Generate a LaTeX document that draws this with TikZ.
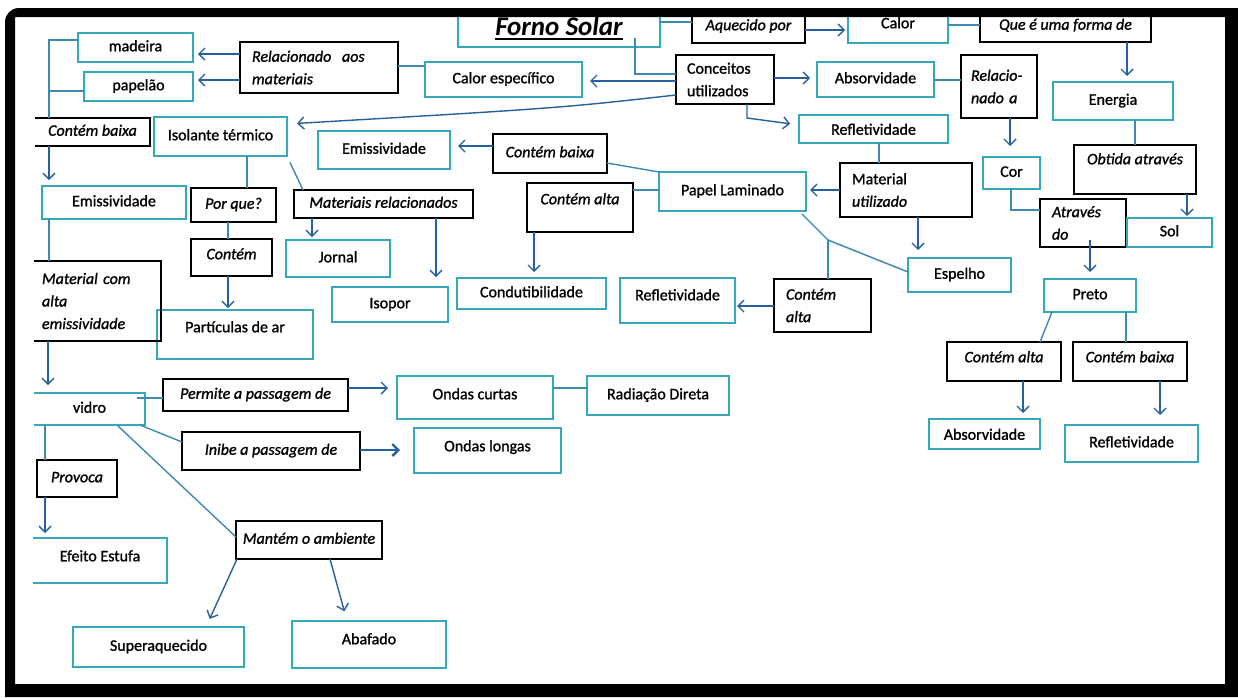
\documentclass[tikz,border=0pt]{standalone}
\usepackage{fontspec}
\setmainfont{Carlito}[UprightFeatures={FakeBold=1.2}, ItalicFeatures={FakeBold=1.2}]
\usetikzlibrary{arrows.meta}

\definecolor{tealbox}{RGB}{52,168,184}
\definecolor{arrowblue}{RGB}{38,96,158}
\definecolor{linkblue}{RGB}{60,138,178}

% thick underline for the title
\newsavebox\ulbox
\newcommand\thickul[1]{\sbox\ulbox{#1}\rlap{\rule[-4.5pt]{\wd\ulbox}{2pt}}\usebox\ulbox}

% box given by its corners: [extra]{style}{name}{x1}{y1}{x2}{y2}
\newcommand\bx[7][]{\node[#2, minimum width={#6-#4}, minimum height={#7-#5}, #1] (#3) at ({(#4+#6)/2},{(#5+#7)/2})}

\tikzset{
  base/.style={rectangle, inner sep=0pt, outer sep=0pt, font=\fontsize{16}{22.5}\selectfont},
  one/.style={text height=11pt, text depth=3.5pt},
  concept/.style={base, draw=tealbox, line width=2.6pt},
  link/.style={base, draw=black, line width=1.8pt, font=\fontsize{16}{22.5}\selectfont\itshape},
  upright/.style={font=\fontsize{16}{22.5}\selectfont\upshape},
  arr/.style={draw=arrowblue, line width=1.4pt, -{Straight Barb[length=6pt,width=12pt]}},
  ln/.style={draw=linkblue, line width=1.4pt},
  tealside/.style={draw=tealbox, line width=2.6pt},
  blackside/.style={draw=black, line width=1.8pt},
}

\begin{document}
\begin{tikzpicture}[x=1pt,y=-1pt]
\useasboundingbox (0,0) rectangle (1238,697);
\fill[white] (0,0) rectangle (1238,697);

% ---- concepts and linking phrases ----
\bx{concept,one,font=\fontsize{27}{30}\selectfont\bfseries\itshape,text height=19pt,text depth=6pt}{forno}{458}{10}{660}{47}{\thickul{Forno Solar}};
\bx{link,one}{aquec}{692}{10}{805}{43}{Aquecido por};
\bx{concept,one}{calor}{848}{10}{948}{43}{\raisebox{2pt}{Calor}};
\bx{link,one}{quee}{980}{10}{1151}{42}{Que é uma forma de};
\bx{concept,one}{madeira}{78}{33}{193}{62}{madeira};
\bx{concept,one}{papelao}{84}{72}{193}{101}{papelão};
\bx{link,align=left,text width=134pt}{relac}{240}{42}{398}{93}{Relacionado\ \ aos\\materiais};
\bx{concept,one}{calesp}{425}{62}{582}{97}{Calor específico};
\bx{link,upright,align=left,text width=76pt}{conc}{676}{55}{774}{104}{Conceitos\\utilizados};
\bx{concept,one}{absorv1}{817}{62}{934}{97}{Absorvidade};
\bx{link,align=left,text width=56pt}{relnado}{961}{55}{1037}{118}{Relacio-\\nado a};
\bx{concept,one}{energia}{1053}{82}{1173}{120}{Energia};
\bx{concept,one}{refl1}{799}{115}{948}{143}{\raisebox{-2pt}{Refletividade}};
\bx{concept,one}{isol}{154}{117}{287}{156}{Isolante térmico};
\bx{concept,one}{emis2}{318}{131}{450}{169}{Emissividade};
\bx{link,one}{cbaixa2}{493}{134}{607}{173}{Contém baixa};
\bx{link,one,draw=none}{cbaixa1}{35}{118}{150}{146}{Contém baixa};
\bx{link,align=left,text width=108pt}{matutil}{840}{163}{972}{217}{{\upshape Material}\\utilizado};
\bx{concept,one}{cor}{983}{157}{1040}{189}{Cor};
\bx{link,one}{obtida}{1074}{145}{1196}{194}{\raisebox{9pt}{Obtida através}};
\bx{concept,one}{papel}{659}{172}{806}{211}{Papel Laminado};
\bx{link,one}{calta2}{527}{183}{633}{232}{\raisebox{7pt}{Contém alta}};
\bx{concept,one}{emis1}{42}{186}{186}{219}{Emissividade};
\bx{link,one}{porque}{191}{188}{276}{222}{Por que?};
\bx{link,one}{matrel}{294}{190}{473}{218}{Materiais relacionados};
\bx{link,align=left,text width=62pt}{atraves}{1040}{199}{1126}{247}{Através\\do};
\bx{concept,one}{sol}{1127}{218}{1212}{247}{Sol};
\bx{link,one}{contem}{191}{239}{272}{276}{\raisebox{2pt}{Contém}};
\bx{concept,one}{jornal}{286}{240}{390}{277}{Jornal};
\bx{concept,one}{espelho}{908}{258}{1011}{292}{Espelho};
\bx{link,align=left,text width=111pt,draw=none}{matcom}{34}{261}{161}{341}{Material com\\alta\\emissividade};
\bx{concept,one}{conduti}{457}{278}{606}{309}{Condutibilidade};
\bx{concept,one}{refl2}{620}{278}{735}{323}{\raisebox{4pt}{Refletividade}};
\bx{link,align=left,text width=73pt}{calta3}{774}{279}{871}{332}{Contém\\alta};
\bx{concept,one}{preto}{1044}{279}{1136}{312}{Preto};
\bx{concept,one}{isopor}{332}{287}{448}{322}{Isopor};
\bx{concept,one}{partic}{157}{310}{313}{359}{\raisebox{6pt}{Partículas de ar}};
\bx{link,one}{calta1}{947}{342}{1061}{381}{\raisebox{3pt}{Contém alta}};
\bx{link,one}{cbaixa3}{1073}{342}{1187}{381}{\raisebox{3pt}{Contém baixa}};
\bx{link,one}{permite}{163}{379}{348}{411}{Permite a passagem de};
\bx{concept,one}{ondasc}{397}{376}{553}{419}{\raisebox{2pt}{Ondas curtas}};
\bx{concept,one}{radiacao}{587}{376}{729}{415}{Radiação Direta};
\bx{concept,one,draw=none}{vidro}{34}{393}{145}{425}{vidro};
\bx{concept,one}{absorv2}{929}{419}{1040}{449}{\raisebox{-2pt}{Absorvidade}};
\bx{concept,one}{refl3}{1065}{425}{1198}{462}{Refletividade};
\bx{link,one}{inibe}{182}{432}{360}{470}{Inibe a passagem de};
\bx{concept,one}{ondasl}{414}{428}{561}{473}{\raisebox{3pt}{Ondas longas}};
\bx{link,one}{provoca}{37}{460}{117}{497}{Provoca};
\bx{link,one}{mantem}{236}{521}{382}{559}{Mantém o ambiente};
\bx{concept,one,draw=none}{efeito}{33}{538}{167}{583}{\raisebox{3pt}{Efeito Estufa}};
\bx{concept,one}{superaq}{73}{627}{244}{667}{Superaquecido};
\bx{concept,one}{abafado}{292}{621}{446}{668}{\raisebox{4pt}{Abafado}};

% boxes cut off on their left side
\draw[blackside] (cbaixa1.north west) -| (cbaixa1.south east) -- (cbaixa1.south west);
\draw[blackside] (matcom.north west) -| (matcom.south east) -- (matcom.south west);
\draw[tealside] (vidro.north west) -| (vidro.south east) -- (vidro.south west);
\draw[tealside] (efeito.north west) -| (efeito.south east) -- (efeito.south west);

% ---- connectors: top row ----
\draw[ln] (forno.east |- 0,22) -- (aquec.west |- 0,22);
\draw[arr, shorten >=3pt] (aquec.east |- 0,30) -- (calor.west |- 0,30);
\draw[ln] (calor.east |- 0,25) -- (quee.west |- 0,25);
\draw[arr, shorten >=6pt] (quee.south -| 1127,0) -- (energia.north -| 1127,0);
\draw[ln, shorten <=-9pt] (forno.south -| 635,0) -- (635,74) -- (conc.west |- 0,74);

% ---- Conceitos utilizados ----
\draw[arr, shorten >=8pt] (conc.west |- 0,81) -- (calesp.east |- 0,81);
\draw[arr, shorten >=7pt] (conc.east |- 0,78) -- (absorv1.west |- 0,78);
\draw[arr, shorten >=9pt] (conc.south -| 747,0) -- (747,118) -- (refl1.west |- 0,125);
\draw[arr, shorten >=10pt] (conc.west |- 0,95) .. controls (560,108) .. (isol.east |- 0,124);

% ---- materials on the left ----
\draw[arr, shorten >=5pt] (relac.west |- 0,54) -- (madeira.east |- 0,54);
\draw[arr, shorten >=5pt] (relac.west |- 0,80) -- (papelao.east |- 0,80);
\draw[ln] (relac.east |- 0,66) -- (calesp.west |- 0,66);
\draw[ln] (madeira.west |- 0,40) -- (49,40) -- (cbaixa1.north -| 49,0);
\draw[ln] (papelao.west |- 0,91) -- (49,91);
\draw[arr, shorten >=6pt] (cbaixa1.south -| 49,0) -- (emis1.north -| 49,0);
\draw[ln] (emis1.south -| 49,0) -- (matcom.north -| 49,0);
\draw[arr, shorten >=8pt] (matcom.south -| 48,0) -- (vidro.north -| 48,0);

% ---- right side ----
\draw[ln] (absorv1.east |- 0,80) -- (relnado.west |- 0,80);
\draw[arr, shorten >=11pt] (relnado.south -| 1010,0) -- (cor.north -| 1010,0);
\draw[ln] (energia.south -| 1135,0) -- (obtida.north -| 1135,0);
\draw[arr, shorten >=2pt] (obtida.south -| 1187,0) -- (sol.north -| 1187,0);
\draw[ln] (cor.south -| 1011,0) -- (1011,210) -- (atraves.west |- 0,210);
\draw[arr, shorten <=-7pt, shorten >=7pt] (atraves.south -| 1090,0) -- (preto.north -| 1090,0);
\draw[ln] (preto.south -| 1052,0) -- (calta1.north -| 1040,0);
\draw[ln] (preto.south -| 1126,0) -- (cbaixa3.north -| 1126,0);
\draw[arr, shorten >=6pt] (calta1.south -| 1023,0) -- (absorv2.north -| 1023,0);
\draw[arr, shorten >=10pt] (cbaixa3.south -| 1160,0) -- (refl3.north -| 1160,0);

% ---- Material utilizado and Papel Laminado ----
\draw[ln] (refl1.south -| 879,0) -- (matutil.north -| 879,0);
\draw[arr, shorten >=4pt] (matutil.west |- 0,190) -- (papel.east |- 0,190);
\draw[arr, shorten >=8pt] (matutil.south -| 918,0) -- (espelho.north -| 918,0);
\draw[ln, shorten <=4pt] (papel.south -| 799,0) -- (828,240) coordinate (pj) -- (espelho.west |- 0,272);
\draw[ln] (pj) -- (calta3.north -| pj);
\draw[arr, shorten >=2pt] (calta3.west |- 0,306) -- (refl2.east |- 0,306);
\draw[ln] (cbaixa2.east |- 0,163) -- (papel.north west);
\draw[arr, shorten >=8pt] (cbaixa2.west |- 0,146) -- (emis2.east |- 0,146);
\draw[ln] (papel.west |- 0,190) -- (calta2.east |- 0,190);
\draw[arr, shorten >=6pt] (calta2.south -| 534,0) -- (conduti.north -| 534,0);

% ---- Isolante termico ----
\draw[ln] (isol.south -| 247,0) -- (porque.north -| 247,0);
\draw[ln] (porque.south -| 228,0) -- (contem.north -| 228,0);
\draw[arr, shorten >=2pt] (contem.south -| 228,0) -- (partic.north -| 228,0);
\draw[ln, shorten <=7pt] (isol.south east) -- (matrel.north -| 303,0);
\draw[arr, shorten >=3pt] (matrel.south -| 312,0) -- (jornal.north -| 312,0);
\draw[arr, shorten >=10pt] (matrel.south -| 436,0) -- (isopor.north -| 436,0);

% ---- vidro ----
\draw[ln, shorten <=-8pt] (vidro.east |- 0,398) -- (permite.west |- 0,398);
\draw[arr, shorten >=9pt] (permite.east |- 0,388) -- (ondasc.west |- 0,388);
\draw[ln] (ondasc.east |- 0,388) -- (radiacao.west |- 0,388);
\draw[ln] (vidro.south -| 140,0) -- (inibe.west |- 0,442);
\draw[arr, line width=2.4pt, shorten >=14pt] (inibe.east |- 0,450) -- (ondasl.west |- 0,450);
\draw[ln] (vidro.south -| 117,0) -- (mantem.west |- 0,537);
\draw[ln] (vidro.south -| 45,0) -- (provoca.north -| 45,0);
\draw[arr, shorten >=5pt] (provoca.south -| 45,0) -- (efeito.north -| 45,0);
\draw[arr, shorten >=9pt] (mantem.south -| 237,0) -- (superaq.north -| 206,0);
\draw[arr, shorten >=10pt] (mantem.south -| 330,0) -- (abafado.north -| 347,0);

% ---- black frame ----
\fill[black, even odd rule] (1238,697) -- (5,697) [rounded corners=14pt] -- (5,8) [sharp corners] -- (1238,8) -- cycle (15,17) rectangle (1225,684);
\end{tikzpicture}
\end{document}
